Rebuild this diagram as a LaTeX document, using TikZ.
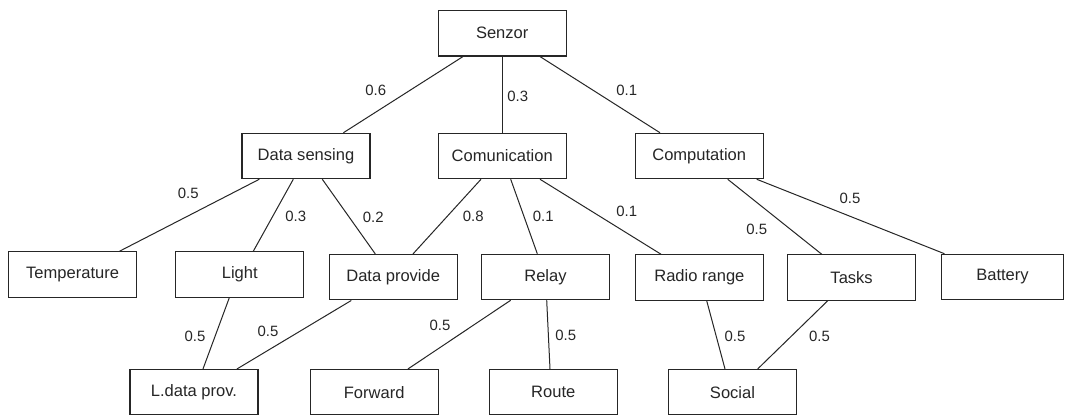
\documentclass[tikz,border=0pt]{standalone}
\usepackage{fontspec}
\setmainfont{Liberation Sans}
\usetikzlibrary{calc}
\tikzset{
  box/.style={draw=black!85, line width=0.8pt, rectangle, inner sep=0pt,
    minimum width=96pt, minimum height=34.1pt, text=black!85,
    font=\fontsize{12.4}{14}\selectfont},
  link/.style={draw=black!85, line width=0.75pt},
  wt/.style={inner sep=0pt, text=black!85, font=\fontsize{11.2}{13}\selectfont}
}
\begin{document}
\begin{tikzpicture}[x=0.75pt, y=-0.75pt]
\useasboundingbox (0,0) rectangle (1065,416);
\fill[white] (0,0) rectangle (1065,416);

% tree levels
\node[box] (senzor)  at (502.2,33.3)  {Senzor};
\node[box] (ds)      at (306,156)     {Data sensing};
\node[box] (comm)    at (502.2,156)   {Comunication};
\node[box] (comp)    at (699.2,156)   {Computation};

\node[box] (temp)    at (72.6,274.5)  {Temperature};
\node[box] (light)   at (239.8,274.5) {Light};
\node[box] (dp)      at (393.2,277.2) {Data provide};
\node[box] (relay)   at (545.5,277)   {Relay};
\node[box] (radio)   at (699.4,277.5) {Radio range};
\node[box] (tasks)   at (851.6,277.5) {Tasks};
\node[box, minimum width=91.5pt] (battery) at (1002.5,277) {Battery};

\node[box] (ldata)   at (194,392.2)   {L.data prov.};
\node[box] (fwd)     at (374.2,392.2) {Forward};
\node[box] (route)   at (553.3,392.2) {Route};
\node[box] (social)  at (732.5,392.2) {Social};

% weighted links
\draw[link] ($(senzor.south)+(-39.2,0)$) -- ($(ds.north)+(37.4,0)$);
\draw[link] ($(senzor.south)+(0.5,0)$) -- ($(comm.north)+(0.5,0)$);
\draw[link] ($(senzor.south)+(37.8,0)$) -- ($(comp.north)+(-39.2,0)$);

\draw[link] ($(ds.south)+(-46.7,0)$) -- ($(temp.north)+(46.9,0)$);
\draw[link] ($(ds.south)+(-12.7,0)$) -- ($(light.north)+(13.5,0)$);
\draw[link] ($(ds.south)+(16.3,0)$) -- ($(dp.north)+(-17.9,0)$);
\draw[link] ($(comm.south)+(-21.2,0)$) -- ($(dp.north)+(19.8,0)$);
\draw[link] ($(comm.south)+(8.5,0)$) -- ($(relay.north)+(-8.2,0)$);
\draw[link] ($(comm.south)+(37.8,0)$) -- ($(radio.north)+(-38.4,0)$);
\draw[link] ($(comp.south)+(28.5,0)$) -- ($(tasks.north)+(-29.9,0)$);
\draw[link] ($(comp.south)+(57.5,0)$) -- ($(battery.north west)+(3.5,0)$);

\draw[link] ($(light.south)+(-10.5,0)$) -- ($(ldata.north)+(9,0)$);
\draw[link] ($(dp.south)+(-41.9,0)$) -- ($(ldata.north)+(43,0)$);
\draw[link] ($(relay.south)+(-34.8,0)$) -- ($(fwd.north)+(33.8,0)$);
\draw[link] ($(relay.south)+(1.2,0)$) -- ($(route.north)+(-3.3,0)$);
\draw[link] ($(radio.south)+(7.3,0)$) -- ($(social.north)+(-7.5,0)$);
\draw[link] ($(tasks.south)+(-23.9,0)$) -- ($(social.north)+(25.2,0)$);

% weights
\node[wt] (w1)  at (375.8,90)   {0.6};
\node[wt] (w2)  at (517.7,96.7) {0.3};
\node[wt] (w3)  at (626.7,90)   {0.1};
\node[wt] (w4)  at (188.3,193.3) {0.5};
\node[wt] (w5)  at (295.7,216)  {0.3};
\node[wt] (w6)  at (373.3,217.3) {0.2};
\node[wt] (w7)  at (473.3,216.7) {0.8};
\node[wt] (w8)  at (543.3,216.7) {0.1};
\node[wt] (w9)  at (626.7,211.7) {0.1};
\node[wt] (w10) at (756.7,229.3) {0.5};
\node[wt] (w11) at (850,198.3)  {0.5};
\node[wt] (w12) at (195,336)    {0.5};
\node[wt] (w13) at (268,331)    {0.5};
\node[wt] (w14) at (440,325)    {0.5};
\node[wt] (w15) at (565.7,335)  {0.5};
\node[wt] (w16) at (735,336)    {0.5};
\node[wt] (w17) at (819.5,336)  {0.5};
\end{tikzpicture}
\end{document}
